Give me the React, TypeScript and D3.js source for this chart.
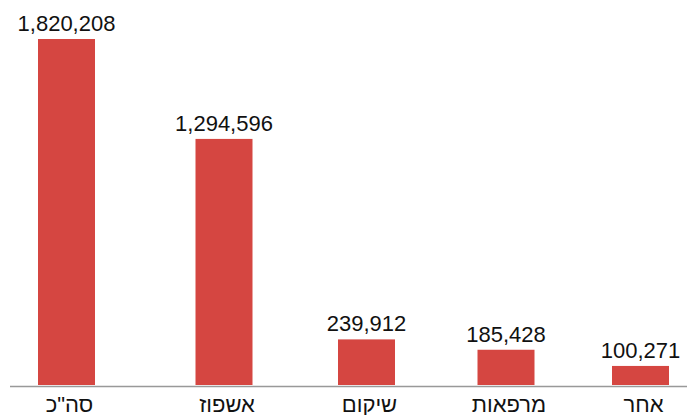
import React from "react";
import * as d3 from "d3";

const categories = ['סה"כ', "אשפוז", "שיקום", "מרפאות", "אחר"];
const values = [1820208, 1294596, 239912, 185428, 100271];

const W = 687;
const H = 415;
const baseY = 385;
const topY = 39;
const centerRange = [66.5, 224, 366.5, 506, 640.5];
const barW = 57;

export default function App() {
  const x = d3.scaleOrdinal<string, number>().domain(categories).range(centerRange);
  const y = d3.scaleLinear().domain([0, d3.max(values) as number]).range([baseY, topY]);
  const fmt = d3.format(",");
  return (
    <svg
      width={W}
      height={H}
      style={{ position: "absolute", left: 0, top: 0 }}
      fontFamily="'Liberation Sans', Arial, sans-serif"
    >
      <rect x={0} y={0} width={W} height={H} fill="#ffffff" />
      {categories.map((c, i) => (
        <g key={c}>
          <rect
            x={x(c) - barW / 2}
            y={y(values[i])}
            width={barW}
            height={baseY - y(values[i])}
            fill="#D54641"
          />
          <text
            x={x(c)}
            y={y(values[i]) - 8}
            textAnchor="middle"
            fontSize={22}
            fill="#111"
          >
            {fmt(values[i])}
          </text>
          <text
            x={x(c) + 3}
            y={412}
            textAnchor="middle"
            fontSize={22}
            fill="#111"
            direction="rtl"
          >
            {c}
          </text>
        </g>
      ))}
      <line x1={10} x2={W} y1={386.5} y2={386.5} stroke="#999" strokeWidth={1.5} />
    </svg>
  );
}
